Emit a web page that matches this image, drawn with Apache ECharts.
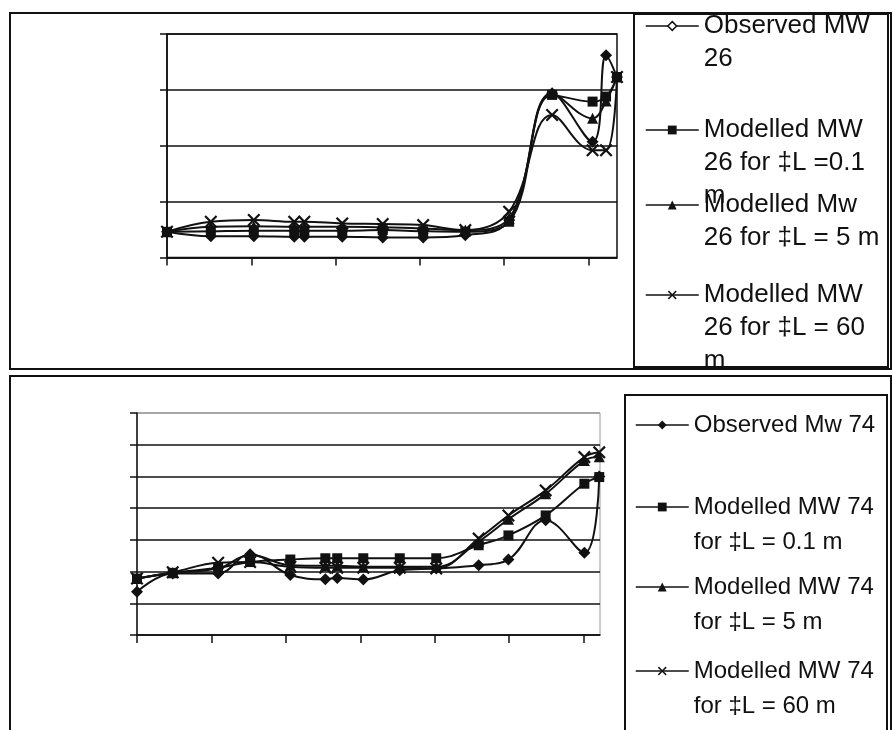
<!DOCTYPE html>
<html>
<head>
<meta charset="utf-8">
<script src="https://cdn.jsdelivr.net/npm/echarts@6/dist/echarts.min.js"></script>
<style>html,body{margin:0;padding:0;background:#fff;}#c{width:892px;height:730px;}</style>
</head>
<body>
<div id="c"></div>
<script>
// ---- Chart 1: MW 26 ----
const xs26 = [0, 0.52, 1.03, 1.51, 1.63, 2.08, 2.56, 3.04, 3.54, 4.06, 4.57, 5.05, 5.21, 5.34];
const observed26 = [0.46, 0.38, 0.38, 0.37, 0.37, 0.37, 0.36, 0.36, 0.40, 0.67, 2.94, 2.07, 3.62, 3.23];
const modelled26_01 = [0.46, 0.47, 0.48, 0.48, 0.48, 0.48, 0.49, 0.47, 0.46, 0.64, 2.91, 2.79, 2.88, 3.23];
const modelled26_5 = [0.46, 0.55, 0.56, 0.55, 0.55, 0.55, 0.54, 0.52, 0.49, 0.70, 2.94, 2.49, 2.80, 3.23];
const modelled26_60 = [0.46, 0.64, 0.67, 0.64, 0.64, 0.61, 0.60, 0.58, 0.49, 0.82, 2.55, 1.92, 1.92, 3.23];
const names26 = ['Observed MW 26', 'Modelled MW 26 for \u2021L =0.1 m', 'Modelled Mw 26 for \u2021L = 5 m', 'Modelled MW 26 for \u2021L = 60 m'];
const labels26 = ['Observed MW\n26', 'Modelled MW\n26 for \u2021L =0.1\nm', 'Modelled Mw\n26 for \u2021L = 5 m', 'Modelled MW\n26 for \u2021L = 60\nm'];
const xTicks26 = [0, 1, 2, 3, 4, 5];

// ---- Chart 2: MW 74 ----
const xs74 = [0, 0.48, 1.09, 1.52, 2.06, 2.53, 2.69, 3.04, 3.53, 4.02, 4.59, 4.99, 5.49, 6.01, 6.21];
const observed74 = [1.36, 1.94, 1.94, 2.55, 1.89, 1.76, 1.80, 1.75, 2.04, 2.10, 2.20, 2.38, 3.62, 2.59, 5.00];
const modelled74_01 = [1.78, 1.96, 2.12, 2.30, 2.38, 2.42, 2.42, 2.42, 2.42, 2.42, 2.83, 3.14, 3.77, 4.77, 4.98];
const modelled74_5 = [1.78, 1.96, 2.10, 2.52, 2.20, 2.18, 2.18, 2.15, 2.15, 2.15, 2.95, 3.65, 4.45, 5.50, 5.62];
const modelled74_60 = [1.78, 1.98, 2.28, 2.30, 2.15, 2.12, 2.12, 2.12, 2.12, 2.10, 3.04, 3.77, 4.56, 5.61, 5.76];
const names74 = ['Observed Mw 74', 'Modelled MW 74 for \u2021L = 0.1 m', 'Modelled MW 74 for \u2021L = 5 m', 'Modelled MW 74 for \u2021L = 60 m'];
const labels74 = ['Observed Mw 74', 'Modelled MW 74\nfor \u2021L = 0.1 m', 'Modelled MW 74\nfor \u2021L = 5 m', 'Modelled MW 74\nfor \u2021L = 60 m'];
const xTicks74 = [0, 1, 2, 3, 4, 5, 6];

const INK = '#111';
const FONT = 'Liberation Sans, Arial, sans-serif';
const xSym = 'path://M0,1.2L1.2,0L5,3.8L8.8,0L10,1.2L6.2,5L10,8.8L8.8,10L5,6.2L1.2,10L0,8.8L3.8,5Z';
const symbols = ['diamond', 'rect', 'triangle', xSym];
const symSizes = [12, 10, 11, 13];

// legend text: blank lines above so the first line sits level with the icon
const labelMap = {};
function padLabel(l) { const n = l.split('\n').length; return '\n'.repeat(n - 1) + l; }
names26.forEach((n, i) => labelMap[n] = padLabel(labels26[i]));
names74.forEach((n, i) => labelMap[n] = padLabel(labels74[i]));

function mkSeries(name, xs, ys, k, gi) {
  return {
    type: 'line', name: name, xAxisIndex: gi, yAxisIndex: gi,
    data: xs.map((x, i) => [x, ys[i]]),
    smooth: 0.4, symbol: symbols[k], symbolSize: symSizes[k],
    lineStyle: {color: INK, width: 2},
    itemStyle: {color: INK},
    clip: false
  };
}

function mkLegend(name, label, left, centerY, fontSize, lh, hollow) {
  const lines = label.split('\n').length;
  const block = (2 * lines - 1) * lh;
  const item = {name: name};
  if (hollow) item.itemStyle = {color: '#fff', borderColor: INK, borderWidth: 1.5};
  return {
    show: true, orient: 'vertical', left: left, top: centerY - block / 2,
    padding: 0, itemWidth: 53, itemHeight: 11, selectedMode: false,
    data: [item],
    formatter: n => labelMap[n],
    lineStyle: {color: INK, width: 1.5},
    textStyle: {fontFamily: FONT, fontSize: fontSize, lineHeight: lh, color: INK}
  };
}

const leg26Y = [26, 130, 205, 295];
const leg74Y = [425, 507, 587, 671];

const chart = echarts.init(document.getElementById('c'), null, {renderer: 'canvas'});
chart.setOption({
  animation: false,
  backgroundColor: '#fff',
  graphic: [
    {type: 'rect', shape: {x: 10, y: 13, width: 881, height: 356}, style: {fill: 'none', stroke: INK, lineWidth: 2}, z: -1},
    {type: 'rect', shape: {x: 634, y: 14, width: 254, height: 353}, style: {fill: 'none', stroke: INK, lineWidth: 2}, z: -1},
    {type: 'rect', shape: {x: 10, y: 376, width: 881, height: 370}, style: {fill: 'none', stroke: INK, lineWidth: 2}, z: -1},
    {type: 'rect', shape: {x: 625, y: 395, width: 262, height: 350}, style: {fill: 'none', stroke: INK, lineWidth: 2}, z: -1}
  ],
  grid: [
    {left: 167, top: 34, width: 450, height: 223.5, show: true, borderColor: INK, borderWidth: 1.5, backgroundColor: 'transparent'},
    {left: 137, top: 413, width: 463, height: 222, show: true, borderColor: '#9a9a9a', borderWidth: 1, backgroundColor: 'transparent'}
  ],
  xAxis: [
    {type: 'value', gridIndex: 0, min: 0, max: 5.34, interval: 1,
     axisLine: {show: true, onZero: false, lineStyle: {color: INK, width: 1.5}},
     axisTick: {show: true, length: 8, customValues: xTicks26, lineStyle: {color: INK, width: 1.5}},
     axisLabel: {show: false}, splitLine: {show: false}},
    {type: 'value', gridIndex: 1, min: 0, max: 6.22, interval: 1,
     axisLine: {show: true, onZero: false, lineStyle: {color: INK, width: 1.5}},
     axisTick: {show: true, length: 8, customValues: xTicks74, lineStyle: {color: INK, width: 1.5}},
     axisLabel: {show: false}, splitLine: {show: false}}
  ],
  yAxis: [
    {type: 'value', gridIndex: 0, min: 0, max: 4, interval: 1,
     axisLine: {show: true, lineStyle: {color: INK, width: 1.5}},
     axisTick: {show: true, length: 7, lineStyle: {color: INK, width: 1.5}},
     axisLabel: {show: false},
     splitLine: {show: true, lineStyle: {color: INK, width: 1.5}}},
    {type: 'value', gridIndex: 1, min: 0, max: 7, interval: 1,
     axisLine: {show: true, lineStyle: {color: INK, width: 1.5}},
     axisTick: {show: true, length: 7, lineStyle: {color: INK, width: 1.5}},
     axisLabel: {show: false},
     splitLine: {show: true, lineStyle: {color: [INK, INK, INK, INK, INK, INK, INK, '#9a9a9a'], width: 1.5}}}
  ],
  legend: [
    ...names26.map((n, k) => mkLegend(n, labels26[k], 645, leg26Y[k], 26, 33, k === 0)),
    ...names74.map((n, k) => mkLegend(n, labels74[k], 635, leg74Y[k], 24, 35, false))
  ],
  series: [
    mkSeries(names26[0], xs26, observed26, 0, 0),
    mkSeries(names26[1], xs26, modelled26_01, 1, 0),
    mkSeries(names26[2], xs26, modelled26_5, 2, 0),
    mkSeries(names26[3], xs26, modelled26_60, 3, 0),
    mkSeries(names74[0], xs74, observed74, 0, 1),
    mkSeries(names74[1], xs74, modelled74_01, 1, 1),
    mkSeries(names74[2], xs74, modelled74_5, 2, 1),
    mkSeries(names74[3], xs74, modelled74_60, 3, 1)
  ]
});
</script>
</body>
</html>
